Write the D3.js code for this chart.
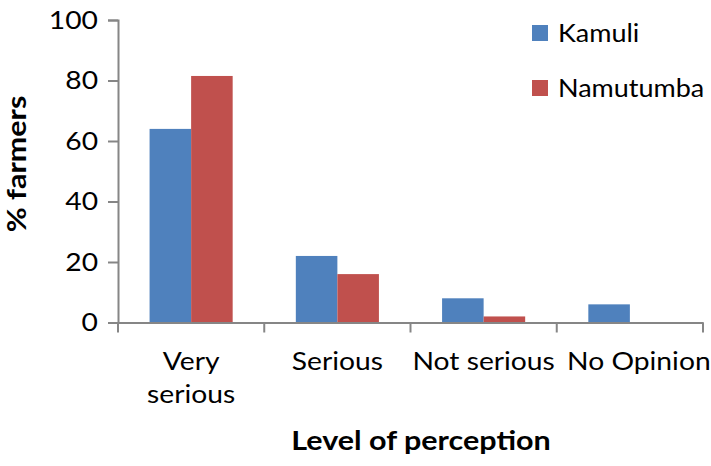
<!DOCTYPE html>
<html>
<head>
<meta charset="utf-8">
<script src="https://cdn.jsdelivr.net/npm/d3@7"></script>
<style>
  body { margin: 0; background: #fff; }
  svg { display: block; font-family: Lato, "Open Sans", sans-serif; }
</style>
</head>
<body>
<svg id="chart" width="711" height="466"></svg>
<script>
// data
const categories = ['Very serious', 'Serious', 'Not serious', 'No Opinion'];
const categoryLines = [['Very', 'serious'], ['Serious'], ['Not serious'], ['No Opinion']];
const seriesNames = ['Kamuli', 'Namutumba'];
const kamuli = [64, 22, 8, 6];
const namutumba = [81.5, 16, 2, 0];
const yTicks = [0, 20, 40, 60, 80, 100];
const colors = ['#4F81BD', '#C0504D'];

const svg = d3.select('#chart');
const axisColor = '#868686';
const fontSize = 25;
const textScale = 1.13; // text in the picture is wide, stretch it a bit

const x = d3.scaleBand().domain(categories).range([118, 703]);
const xs = d3.scaleBand().domain(seriesNames).range([0, x.bandwidth()]).paddingOuter(0.76);
const y = d3.scaleLinear().domain([0, 100]).range([322.5, 20]);

const rows = categories.map((c, i) => ({ cat: c, values: [kamuli[i], namutumba[i]] }));

// bars
const groups = svg.append('g').selectAll('g')
  .data(rows)
  .join('g')
  .attr('transform', d => `translate(${x(d.cat)},0)`);

groups.selectAll('rect')
  .data(d => d.values.map((v, i) => ({ name: seriesNames[i], v: v, i: i })))
  .join('rect')
  .attr('x', d => xs(d.name))
  .attr('width', xs.bandwidth())
  .attr('y', d => y(d.v))
  .attr('height', d => y(0) - y(d.v))
  .attr('fill', d => colors[d.i]);

// y axis
const yAxis = svg.append('g')
  .attr('transform', 'translate(118,0)')
  .call(d3.axisLeft(y).tickValues(yTicks).tickSize(10).tickPadding(10));
yAxis.select('.domain').attr('stroke', axisColor).attr('stroke-width', 2);
yAxis.selectAll('.tick line').attr('stroke', axisColor).attr('stroke-width', 2);
yAxis.selectAll('.tick text')
  .attr('font-size', fontSize)
  .attr('fill', '#000')
  .attr('font-family', 'Lato')
  .each(function () {
    const t = d3.select(this);
    const xx = +t.attr('x');
    t.attr('x', null).attr('transform', `translate(${xx},0) scale(${textScale},1)`);
  });

// x axis
const xAxis = svg.append('g')
  .attr('transform', `translate(0,${y(0)})`)
  .call(d3.axisBottom(x).tickSize(0).tickFormat(''));
xAxis.select('.domain').attr('stroke', axisColor).attr('stroke-width', 2);
xAxis.selectAll('.tick').remove();

const xTickPos = categories.map(c => x(c)).concat([x.range()[1]]);
xAxis.selectAll('line.sep')
  .data(xTickPos)
  .join('line')
  .attr('class', 'sep')
  .attr('x1', d => d).attr('x2', d => d)
  .attr('y1', 0).attr('y2', 10)
  .attr('stroke', axisColor)
  .attr('stroke-width', 2);

// category labels (last one spills a bit to the right, like the original)
const catLabels = svg.append('g').selectAll('text')
  .data(categories)
  .join('text')
  .attr('transform', (d, i) => {
    const shift = i === categories.length - 1 ? 9 : 0;
    return `translate(${x(d) + x.bandwidth() / 2 + shift},370) scale(${textScale},1)`;
  })
  .attr('text-anchor', 'middle')
  .attr('font-size', fontSize)
  .attr('fill', '#000');
catLabels.selectAll('tspan')
  .data((d, i) => categoryLines[i])
  .join('tspan')
  .attr('x', 0)
  .attr('dy', (d, i) => i === 0 ? 0 : 33)
  .text(d => d);

// axis titles
svg.append('text')
  .attr('transform', `translate(421,450) scale(${textScale},1)`)
  .attr('text-anchor', 'middle')
  .attr('font-size', 27)
  .attr('font-weight', 'bold')
  .text('Level of perception');

svg.append('text')
  .attr('transform', 'translate(26,164) rotate(-90) scale(' + textScale + ',1)')
  .attr('text-anchor', 'middle')
  .attr('font-size', 27)
  .attr('font-weight', 'bold')
  .text('% farmers');

// legend
const legend = svg.append('g').selectAll('g')
  .data(seriesNames)
  .join('g')
  .attr('transform', (d, i) => `translate(532,${25 + i * 55})`);
legend.append('rect')
  .attr('width', 16).attr('height', 16)
  .attr('fill', (d, i) => colors[i]);
legend.append('text')
  .attr('transform', 'translate(26,17) scale(1.08,1)')
  .attr('font-size', fontSize)
  .text(d => d);
</script>
</body>
</html>
